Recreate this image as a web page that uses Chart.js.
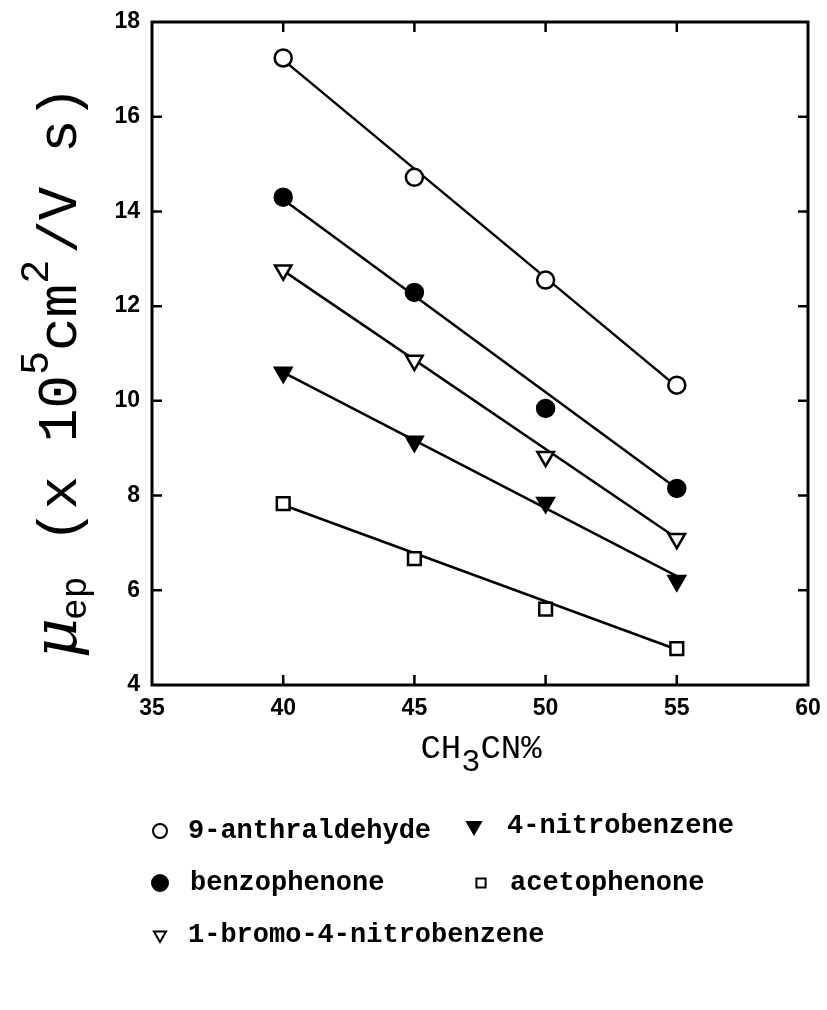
<!DOCTYPE html>
<html>
<head>
<meta charset="utf-8">
<script src="https://cdn.jsdelivr.net/npm/chart.js@4/dist/chart.umd.min.js"></script>
<style>
html,body{margin:0;padding:0;background:#fff;}
#wrap{width:827px;height:1010px;position:relative;}
</style>
</head>
<body>
<div id="wrap"><canvas id="c" width="827" height="1010"></canvas></div>
<script>
// ---- data ----
const xValues = [40, 45, 50, 55];
const anthraldehyde = [17.24, 14.72, 12.55, 10.33];
const benzophenone  = [14.30, 12.29, 9.84, 8.15];
const bromoNitro    = [12.76, 10.85, 8.82, 7.09];
const nitrobenzene  = [10.60, 9.14, 7.85, 6.20];
const acetophenone  = [7.83, 6.67, 5.60, 4.77];
// fitted straight lines: endpoints at x = 40 and x = 55
const fitX = [40, 55];
const anthFit  = [17.20, 10.30];
const benzFit  = [14.25, 8.15];
const bromoFit = [12.75, 7.10];
const nitroFit = [10.60, 6.30];
const acetFit  = [7.80, 4.75];
const xTicks = [35, 40, 45, 50, 55, 60];
const yTicks = [4, 6, 8, 10, 12, 14, 16, 18];
const legendLabels = ['9-anthraldehyde', '4-nitrobenzene', 'benzophenone', 'acetophenone', '1-bromo-4-nitrobenzene'];

const pts = (xs, ys) => xs.map((x, i) => ({x: x, y: ys[i]}));

const styles = {
  anth:  {pointStyle: 'circle',   rotation: 0,   bg: '#fff', r: 8.5},
  benz:  {pointStyle: 'circle',   rotation: 0,   bg: '#000', r: 8.5},
  bromo: {pointStyle: 'triangle', rotation: 180, bg: '#fff', r: 9.5},
  nitro: {pointStyle: 'triangle', rotation: 180, bg: '#000', r: 9.5},
  acet:  {pointStyle: 'rect',     rotation: 0,   bg: '#fff', r: 9}
};

function lineDs(ys) {
  return {data: pts(fitX, ys), showLine: true, borderColor: '#000', borderWidth: 2.5,
          pointRadius: 0, pointHoverRadius: 0, fill: false, tension: 0, order: 2};
}
function ptDs(ys, s) {
  return {data: pts(xValues, ys), showLine: false, pointStyle: s.pointStyle, rotation: s.rotation,
          pointRadius: s.r, pointHoverRadius: s.r, pointBackgroundColor: s.bg,
          pointBorderColor: '#000', pointBorderWidth: 2.5, order: 1};
}

const datasets = [
  lineDs(anthFit), lineDs(benzFit), lineDs(bromoFit), lineDs(nitroFit), lineDs(acetFit),
  ptDs(anthraldehyde, styles.anth), ptDs(benzophenone, styles.benz), ptDs(bromoNitro, styles.bromo),
  ptDs(nitrobenzene, styles.nitro), ptDs(acetophenone, styles.acet)
];

function drawRich(ctx, parts, x, y) {
  let cx = x;
  for (const p of parts) {
    ctx.font = p[1];
    ctx.fillText(p[0], cx, y + p[2]);
    cx += ctx.measureText(p[0]).width + (p[3] || 0);
  }
  return cx - x;
}
function richWidth(ctx, parts) {
  let w = 0;
  for (const p of parts) { ctx.font = p[1]; w += ctx.measureText(p[0]).width + (p[3] || 0); }
  return w;
}

const frame = {
  id: 'frame',
  afterDatasetsDraw(chart) {
    const ctx = chart.ctx, a = chart.chartArea, xs = chart.scales.x, ys = chart.scales.y;
    ctx.save();
    ctx.strokeStyle = '#000';
    ctx.lineWidth = 3;
    ctx.strokeRect(a.left, a.top, a.right - a.left, a.bottom - a.top);
    ctx.lineWidth = 2.5;
    const tl = 10;
    ctx.beginPath();
    for (const v of xTicks) {
      if (v === xTicks[0] || v === xTicks[xTicks.length - 1]) continue;
      const px = xs.getPixelForValue(v);
      ctx.moveTo(px, a.bottom); ctx.lineTo(px, a.bottom - tl);
      ctx.moveTo(px, a.top); ctx.lineTo(px, a.top + tl);
    }
    for (const v of yTicks) {
      if (v === yTicks[0] || v === yTicks[yTicks.length - 1]) continue;
      const py = ys.getPixelForValue(v);
      ctx.moveTo(a.left, py); ctx.lineTo(a.left + tl, py);
      ctx.moveTo(a.right, py); ctx.lineTo(a.right - tl, py);
    }
    ctx.stroke();
    ctx.restore();
  },
  afterDraw(chart) {
    const ctx = chart.ctx, a = chart.chartArea;
    ctx.save();
    ctx.fillStyle = '#000';
    ctx.textBaseline = 'alphabetic';
    ctx.textAlign = 'left';
    // x title: CH3CN%
    const xf = '34px "Liberation Mono"', xsf = '32px "Liberation Mono"';
    const xparts = [['CH', xf, 0], ['3', xsf, 13], ['CN%', xf, 0]];
    const xw = richWidth(ctx, xparts);
    drawRich(ctx, xparts, 481 - xw / 2, 758);
    // y title
    ctx.save();
    ctx.translate(76, 0);
    ctx.rotate(-Math.PI / 2);
    const big = '56px "Liberation Mono"', sup = '40px "Liberation Mono"';
    const mu = 'italic 62px "DejaVu Serif"', sub = '36px "Liberation Mono"';
    const yparts = [['\u03bc', mu, 0, -2], ['ep', sub, 10, 0], [' (x 10', big, 0], ['5', sup, -28], ['cm', big, 0], ['2', sup, -28, 6], ['/V s)', big, 0]];
    const yw = richWidth(ctx, yparts);
    const cy = 372;
    drawRich(ctx, yparts, -(cy + yw / 2), 0);
    ctx.restore();
    // legend
    const lf = 'bold 27px "Liberation Mono"';
    const items = [
      [styles.anth, 160, 831, legendLabels[0], 188, 7],
      [styles.nitro, 474, 826, legendLabels[1], 507, 8],
      [styles.benz, 160, 883, legendLabels[2], 190, 8],
      [styles.acet, 481, 883, legendLabels[3], 510, 6.5],
      [styles.bromo, 160, 935, legendLabels[4], 188, 7]
    ];
    for (const it of items) {
      const s = it[0];
      ctx.save();
      ctx.lineWidth = 2;
      ctx.strokeStyle = '#000';
      ctx.fillStyle = s.bg;
      Chart.helpers.drawPoint(ctx, {pointStyle: s.pointStyle, rotation: s.rotation, radius: it[5], borderWidth: 2}, it[1], it[2]);
      ctx.restore();
      ctx.font = lf;
      ctx.fillStyle = '#000';
      ctx.textBaseline = 'middle';
      ctx.fillText(it[3], it[4], it[2]);
    }
    ctx.restore();
  }
};

new Chart(document.getElementById('c'), {
  type: 'scatter',
  data: {datasets: datasets},
  plugins: [frame],
  options: {
    responsive: false,
    animation: false,
    events: [],
    layout: {padding: {top: 22, right: 19, left: 0, bottom: 0}},
    plugins: {legend: {display: false}, tooltip: {enabled: false}, title: {display: false}},
    scales: {
      x: {
        type: 'linear', min: 35, max: 60,
        afterBuildTicks: s => { s.ticks = xTicks.map(v => ({value: v})); },
        afterFit: s => { s.height = 325; },
        grid: {display: false}, border: {display: false},
        ticks: {color: '#000', font: {family: '"Liberation Sans"', size: 23, weight: 'bold'}, padding: 2, maxRotation: 0}
      },
      y: {
        type: 'linear', min: 4, max: 18,
        afterBuildTicks: s => { s.ticks = yTicks.map(v => ({value: v})); },
        afterFit: s => { s.width = 152; },
        grid: {display: false}, border: {display: false},
        ticks: {color: '#000', font: {family: '"Liberation Sans"', size: 23, weight: 'bold'}, padding: 4}
      }
    }
  }
});
</script>
</body>
</html>
